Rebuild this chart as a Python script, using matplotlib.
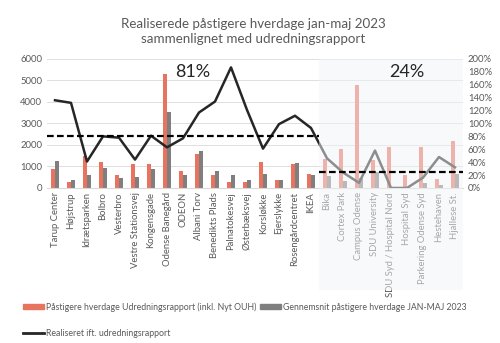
import matplotlib.pyplot as plt
from matplotlib.patches import Rectangle, Patch
from matplotlib.lines import Line2D
from matplotlib.ticker import FuncFormatter

plt.rcParams['font.family'] = ['Lato', 'DejaVu Sans']

stops = ["Tarup Center", "Højstrup", "Idrætsparken", "Bolbro", "Vesterbro",
         "Vestre Stationsvej", "Kongensgade", "Odense Banegård", "ODEON",
         "Albani Torv", "Benedikts Plads", "Palnatokesvej", "Østerbæksvej",
         "Korsløkke", "Ejerslykke", "Rosengårdcentret", "IKEA",
         "Bika", "Cortex Park", "Campus Odense", "SDU University",
         "SDU Syd / Hospital Nord", "Hospital Syd", "Parkering Odense Syd",
         "Hestehaven", "Hjallese St."]
rapport = [900, 300, 1500, 1200, 600, 1100, 1100, 5300, 800, 1600, 600, 300, 300,
           1200, 370, 1100, 650,
           1350, 1800, 4800, 1300, 1900, 600, 1900, 420, 2200]
gennemsnit = [1250, 380, 600, 950, 480, 500, 880, 3550, 580, 1700, 800, 580, 350,
              650, 350, 1150, 600,
              560, 330, 450, 750, 50, 20, 230, 150, 650]
realiseret = [1.36, 1.32, 0.41, 0.80, 0.78, 0.44, 0.81, 0.63, 0.77, 1.17, 1.34, 1.87, 1.21,
              0.61, 0.99, 1.12, 0.93,
              0.46, 0.24, 0.08, 0.58, 0.0, 0.0, 0.16, 0.48, 0.32]
n_first = 17
avg_first = 0.81
avg_second = 0.24

ORANGE = "#E8735F"
GRAY = "#7F7F7F"
TXT = "#595959"

fig = plt.figure(figsize=(5, 3.43), dpi=100)
ax = fig.add_axes([0.094, 0.452, 0.832, 0.376])
ax2 = ax.twinx()

x = list(range(len(stops)))
w = 0.26
ax.bar([i - 0.14 for i in x], rapport, width=w, color=ORANGE, zorder=2)
ax.bar([i + 0.14 for i in x], gennemsnit, width=w, color=GRAY, zorder=2)
ax.set_ylim(0, 6000)
ax.set_yticks(range(0, 6001, 1000))
ax.set_xlim(-0.5, len(stops) - 0.5)
ax.set_xticks(x)
ax.set_xticklabels(stops, rotation=90, fontsize=6.8, color=TXT)
ax.tick_params(axis="y", labelsize=6.8, colors=TXT, length=0)
ax.tick_params(axis="x", length=0, pad=3)
ax.grid(axis="y", color="#D9D9D9", linewidth=0.6, zorder=0)
ax.set_axisbelow(True)
for s in ax.spines.values():
    s.set_visible(False)
ax.spines["bottom"].set_visible(True)
ax.spines["bottom"].set_color("#D9D9D9")

ax2.plot(x, realiseret, color="#262626", linewidth=1.8, zorder=2)
ax2.set_ylim(0, 2.0)
ax2.set_yticks([i / 10 for i in range(0, 21, 2)])
ax2.yaxis.set_major_formatter(FuncFormatter(lambda v, p: f"{v * 100:.0f}%"))
ax2.tick_params(axis="y", labelsize=6.8, colors=TXT, length=0)
for s in ax2.spines.values():
    s.set_visible(False)

# faded overlay on second section
ax2.add_patch(Rectangle((n_first - 0.5, -0.79), len(stops) - n_first, 1.79,
                        transform=ax2.get_xaxis_transform(), clip_on=False,
                        facecolor="#F2F4F7", edgecolor="none", alpha=0.5, zorder=3))

ax2.plot([-0.5, n_first - 0.5], [avg_first, avg_first], color="black",
         linestyle=(0, (3, 1.5)), linewidth=1.6, zorder=4)
ax2.plot([n_first - 0.5, len(stops) - 0.5], [avg_second, avg_second], color="black",
         linestyle=(0, (3, 1.5)), linewidth=1.6, zorder=4)
ax2.text(8.6, 1.8, f"{avg_first:.0%}", fontsize=13, ha="center", va="center",
         color="#262626", zorder=5)
ax2.text(22.0, 1.8, f"{avg_second:.0%}", fontsize=13, ha="center", va="center",
         color="#262626", zorder=5)

fig.text(0.506, 0.908, "Realiserede påstigere hverdage jan-maj 2023\nsammenlignet med udredningsrapport",
         ha="center", va="center", fontsize=9.6, color=TXT, linespacing=1.3)

handles = [Patch(color=ORANGE), Line2D([], [], color="#262626", linewidth=2), Patch(color=GRAY)]
labels = ["Påstigere hverdage Udredningsrapport (inkl. Nyt OUH)",
          "Realiseret ift. udredningsrapport",
          "Gennemsnit påstigere hverdage JAN-MAJ 2023"]
fig.legend(handles, labels, ncol=2, loc="center left", bbox_to_anchor=(0.03, 0.067),
           frameon=False, fontsize=6.3, labelcolor=TXT, handlelength=2.4,
           handleheight=0.6, handletextpad=0.2, columnspacing=0.5, labelspacing=2.0)

fig.savefig("out.png", dpi=100)
